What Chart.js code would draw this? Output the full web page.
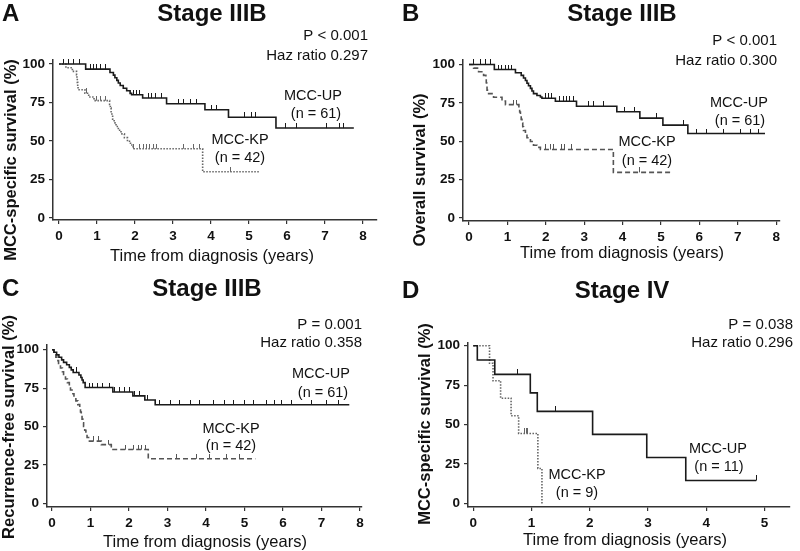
<!DOCTYPE html>
<html>
<head>
<meta charset="utf-8">
<script src="https://cdn.jsdelivr.net/npm/chart.js@4.4.1/dist/chart.umd.min.js"></script>
<style>
  html, body { margin: 0; padding: 0; background: #fff; }
  #wrap { position: relative; width: 800px; height: 551px; }
  #wrap canvas { position: absolute; }
</style>
</head>
<body>
<div id="wrap">
  <canvas id="panelA" width="400" height="275" style="left:0;top:0"></canvas>
  <canvas id="panelB" width="400" height="275" style="left:400px;top:0"></canvas>
  <canvas id="panelC" width="400" height="276" style="left:0;top:275px"></canvas>
  <canvas id="panelD" width="400" height="276" style="left:400px;top:275px"></canvas>
</div>
<script>
// Kaplan-Meier curves (time in years, survival in %)
// A: Stage IIIB, MCC-specific survival
const aUpTime = [0, 0.70, 1.34, 1.43, 1.47, 1.52, 1.56, 1.61, 1.69, 1.78, 1.87, 1.91, 2.20, 2.83, 3.84, 4.46, 5.71, 7.76];
const aUpSurv = [100, 96.7, 94.5, 92.8, 91.1, 89.4, 87.7, 86.0, 84.3, 82.6, 80.9, 80.0, 77.9, 74.2, 70.3, 65.4, 58.4, 58.4];
const aUpCensor = [0.11, 0.25, 0.38, 0.55, 0.82, 0.90, 0.99, 1.08, 1.21, 1.96, 2.04, 2.13, 2.35, 2.44, 2.53, 2.70,
  3.14, 3.27, 3.45, 3.62, 4.02, 4.15, 4.89, 5.07, 5.16, 5.95, 6.25, 7.04, 7.39, 7.48];
const aKpTime = [0, 0.18, 0.35, 0.46, 0.47, 0.48, 0.49, 0.50, 0.68, 0.78, 0.92, 1.33, 1.35, 1.37, 1.39, 1.41, 1.45,
  1.50, 1.56, 1.63, 1.72, 1.80, 1.88, 1.95, 3.78, 5.26];
const aKpSurv = [100, 97.6, 95.2, 92.9, 90.5, 88.1, 85.7, 83.3, 81.0, 78.6, 76.2, 73.8, 71.4, 69.0, 66.6, 64.2, 61.8,
  59.4, 57.0, 54.6, 52.2, 49.8, 47.4, 45.0, 30.0, 30.0];
const aKpCensor = [0.73, 0.99, 1.08, 1.21, 1.96, 2.13, 2.22, 2.31, 2.39, 2.48, 2.57, 3.27, 3.53, 3.71, 4.50];

// B: Stage IIIB, overall survival
const bUpTime = [0, 0.66, 1.21, 1.36, 1.42, 1.47, 1.51, 1.55, 1.60, 1.64, 1.68, 1.77, 1.86, 1.90, 2.25, 2.80, 3.85,
  4.45, 5.05, 5.70, 7.71];
const bUpSurv = [100, 96.7, 94.6, 92.9, 91.2, 89.5, 87.8, 86.1, 84.4, 82.7, 81.0, 79.8, 78.8, 78.0, 76.0, 72.8, 69.2,
  65.0, 60.5, 55.0, 55.0];
const bUpCensor = [0.11, 0.29, 0.42, 0.55, 0.76, 0.85, 0.94, 1.02, 1.11, 1.98, 2.07, 2.15, 2.37, 2.46, 2.54, 2.63,
  2.72, 3.11, 3.24, 3.50, 4.06, 4.32, 4.89, 5.58, 5.93, 6.19, 6.62, 7.06, 7.32, 7.53];
const bKpTime = [0, 0.12, 0.25, 0.38, 0.44, 0.45, 0.46, 0.47, 0.48, 0.64, 0.86, 0.95, 1.30, 1.32, 1.34, 1.36, 1.38,
  1.40, 1.42, 1.47, 1.51, 1.60, 1.68, 1.77, 1.86, 3.76, 5.28];
const bKpSurv = [100, 97.6, 95.2, 92.9, 90.5, 88.1, 85.7, 83.3, 81.0, 78.6, 76.2, 73.8, 71.4, 69.0, 66.6, 64.2, 61.8,
  59.4, 57.0, 54.6, 52.2, 49.8, 47.4, 46.0, 44.6, 29.7, 29.7];
const bKpCensor = [1.15, 1.24, 1.98, 2.11, 2.20, 2.41, 2.50, 2.67, 4.43];

// C: Stage IIIB, recurrence-free survival
const cUpTime = [0, 0.05, 0.12, 0.18, 0.25, 0.30, 0.38, 0.45, 0.50, 0.55, 0.70, 0.75, 0.78, 0.81, 0.86, 1.58, 2.10,
  2.41, 2.68, 7.72];
const cUpSurv = [100, 98.4, 96.7, 95.1, 93.4, 91.8, 90.2, 88.5, 86.9, 85.2, 83.6, 81.9, 80.3, 78.6, 75.4, 72.5, 70.0,
  67.3, 64.2, 64.2];
const cUpCensor = [0.64, 0.98, 1.06, 1.19, 1.32, 1.50, 1.63, 1.76, 1.89, 2.02, 2.15, 2.28, 2.49, 2.80, 3.07, 3.32,
  3.60, 3.84, 4.19, 4.49, 4.71, 5.00, 5.23, 5.57, 5.79, 5.97, 6.22, 6.74, 7.13, 7.43];
const cKpTime = [0, 0.05, 0.10, 0.13, 0.17, 0.22, 0.27, 0.30, 0.35, 0.40, 0.45, 0.48, 0.52, 0.57, 0.62, 0.67, 0.72,
  0.74, 0.76, 0.78, 0.80, 0.82, 0.85, 0.88, 0.91, 0.95, 1.28, 1.54, 2.50, 5.28];
const cKpSurv = [100, 97.6, 95.2, 92.9, 90.5, 88.1, 85.7, 83.3, 81.0, 78.6, 76.2, 73.8, 71.4, 69.0, 66.7, 64.3, 61.9,
  59.5, 57.1, 54.8, 52.4, 50.0, 47.6, 45.2, 42.9, 40.5, 38.2, 35.0, 29.0, 29.0];
const cKpCensor = [1.07, 1.20, 1.46, 1.90, 2.11, 2.24, 2.33, 2.42, 3.24, 3.76, 4.10, 4.54, 4.88];

// D: Stage IV, MCC-specific survival
const dUpTime = [0, 0.07, 0.37, 0.98, 1.10, 2.05, 2.98, 3.65, 4.86];
const dUpSurv = [100, 90.9, 81.8, 70.1, 58.4, 43.8, 29.2, 14.6, 14.6];
const dUpCensor = [0.76, 1.41, 4.86];
const dKpTime = [0, 0.28, 0.34, 0.47, 0.65, 0.78, 1.11, 1.18];
const dKpSurv = [100, 88.9, 77.8, 66.7, 55.6, 44.4, 22.2, 0];
const dKpCensor = [0.88, 0.91, 0.94];

const groupNames = ['MCC-UP', 'MCC-KP'];
const stageIIIBn = [61, 42];
const stageIVn = [11, 9];
const panelTitles = ['Stage IIIB', 'Stage IIIB', 'Stage IIIB', 'Stage IV'];
const panelLetters = ['A', 'B', 'C', 'D'];
const yTitles = ['MCC-specific survival (%)', 'Overall survival (%)', 'Recurrence-free survival (%)', 'MCC-specific survival (%)'];
const xTitle = 'Time from diagnosis (years)';
const statsA = ['P < 0.001', 'Haz ratio 0.297'];
const statsB = ['P < 0.001', 'Haz ratio 0.300'];
const statsC = ['P = 0.001', 'Haz ratio 0.358'];
const statsD = ['P = 0.038', 'Haz ratio 0.296'];

const FONT = '"Liberation Sans", Arial, Helvetica, sans-serif';
const INK = '#111';

// survival value at time t on a step curve
const survAt = (times, survs, t) => {
  let v = survs[0];
  for (let i = 0; i < times.length; i++) {
    if (times[i] <= t) v = survs[i];
  }
  return v;
};

// upward censor tick used as point style
const tickMark = (color) => {
  const c = document.createElement('canvas');
  c.width = 1;
  c.height = 10;
  const g = c.getContext('2d');
  g.fillStyle = color;
  g.fillRect(0, 0, 1, 5);
  return c;
};

const annotate = {
  id: 'annotate',
  afterDraw(chart, args, o) {
    const ctx = chart.ctx;
    ctx.save();
    ctx.fillStyle = INK;
    ctx.textBaseline = 'alphabetic';
    ctx.font = `bold 24px ${FONT}`;
    ctx.textAlign = 'left';
    ctx.fillText(o.letter, 2, o.headY);
    ctx.textAlign = 'center';
    ctx.fillText(o.title, o.titleX, o.headY);

    ctx.font = `15px ${FONT}`;
    ctx.textAlign = 'right';
    o.stats.forEach((s, i) => ctx.fillText(s, o.statsX, o.statsY[i]));

    ctx.font = `14.5px ${FONT}`;
    ctx.textAlign = 'center';
    ctx.textBaseline = 'middle';
    o.labels.forEach(l => ctx.fillText(l.text, l.x, l.y));

    ctx.font = `16.5px ${FONT}`;
    ctx.fillText(xTitle, o.xTitleX, o.xTitleY);

    ctx.font = `bold 16.5px ${FONT}`;
    ctx.translate(o.yTitleX, o.yTitleY);
    ctx.rotate(-Math.PI / 2);
    ctx.fillText(o.yTitle, 0, 0);
    ctx.restore();
  }
};

function buildPanel(p) {
  const canvas = document.getElementById(p.id);
  const W = canvas.width, H = canvas.height;
  const curve = (times, survs, color, dash) => ({
    data: times.map((t, i) => ({ x: t, y: survs[i] })),
    showLine: true,
    stepped: true,
    borderColor: color,
    borderWidth: 1.6,
    borderDash: dash,
    pointRadius: 0,
    fill: false
  });
  const censors = (times, survs, cens, color) => ({
    data: cens.map(t => ({ x: t, y: survAt(times, survs, t) })),
    showLine: false,
    pointStyle: tickMark(color),
    pointRadius: 3,
    clip: false
  });

  new Chart(canvas, {
    type: 'scatter',
    data: {
      datasets: [
        curve(p.upT, p.upS, '#1a1a1a', []),
        curve(p.kpT, p.kpS, p.kpColor, p.kpDash),
        censors(p.upT, p.upS, p.upC, '#1a1a1a'),
        censors(p.kpT, p.kpS, p.kpC, p.kpColor)
      ]
    },
    options: {
      responsive: false,
      animation: false,
      events: [],
      layout: { padding: { top: p.top, right: W - p.right, left: 0, bottom: 0 } },
      plugins: {
        legend: { display: false },
        tooltip: { enabled: false },
        annotate: p.text
      },
      scales: {
        x: {
          type: 'linear',
          min: p.xMin,
          max: p.xMax,
          afterFit: s => { s.height = H - p.bottom; },
          ticks: { stepSize: 1, includeBounds: false, padding: 4, color: INK, font: { family: FONT, size: 13.5, weight: 'bold' } },
          grid: { drawOnChartArea: false, drawTicks: true, tickLength: 4, color: '#333', lineWidth: 1.2 },
          border: { display: true, color: '#333', width: 1.5 }
        },
        y: {
          type: 'linear',
          min: p.yMin,
          max: p.yMax,
          afterFit: s => { s.width = p.left; },
          ticks: { stepSize: 25, includeBounds: false, padding: 4, color: INK, font: { family: FONT, size: 13.5, weight: 'bold' } },
          grid: { drawOnChartArea: false, drawTicks: true, tickLength: 4, color: '#333', lineWidth: 1.2 },
          border: { display: true, color: '#333', width: 1.5 }
        }
      }
    },
    plugins: [annotate]
  });
}

const dotted = [1.5, 1.5];
const dashed = [5, 3];

buildPanel({
  id: 'panelA', left: 53, right: 377, top: 60, bottom: 220,
  xMin: -0.16, xMax: 8.37, yMin: -1.3, yMax: 102.6,
  upT: aUpTime, upS: aUpSurv, upC: aUpCensor,
  kpT: aKpTime, kpS: aKpSurv, kpC: aKpCensor, kpColor: '#666', kpDash: dotted,
  text: {
    letter: panelLetters[0], title: panelTitles[0], titleX: 212, headY: 21,
    stats: statsA, statsX: 368, statsY: [40, 60],
    labels: [
      { text: groupNames[0], x: 313, y: 96 }, { text: `(n = ${stageIIIBn[0]})`, x: 316, y: 114 },
      { text: groupNames[1], x: 240, y: 140 }, { text: `(n = ${stageIIIBn[1]})`, x: 240, y: 158 }
    ],
    xTitleX: 212, xTitleY: 256, yTitle: yTitles[0], yTitleX: 11, yTitleY: 160
  }
});

buildPanel({
  id: 'panelB', left: 63, right: 380, top: 60, bottom: 221,
  xMin: -0.156, xMax: 8.10, yMin: -2.0, yMax: 102.9,
  upT: bUpTime, upS: bUpSurv, upC: bUpCensor,
  kpT: bKpTime, kpS: bKpSurv, kpC: bKpCensor, kpColor: '#555', kpDash: dashed,
  text: {
    letter: panelLetters[1], title: panelTitles[1], titleX: 222, headY: 21,
    stats: statsB, statsX: 377, statsY: [45, 65],
    labels: [
      { text: groupNames[0], x: 339, y: 103 }, { text: `(n = ${stageIIIBn[0]})`, x: 340, y: 121 },
      { text: groupNames[1], x: 247, y: 142 }, { text: `(n = ${stageIIIBn[1]})`, x: 247, y: 161 }
    ],
    xTitleX: 222, xTitleY: 253, yTitle: yTitles[1], yTitleX: 20, yTitleY: 170
  }
});

buildPanel({
  id: 'panelC', left: 47, right: 362, top: 70, bottom: 232,
  xMin: -0.13, xMax: 8.05, yMin: -2.4, yMax: 103.1,
  upT: cUpTime, upS: cUpSurv, upC: cUpCensor,
  kpT: cKpTime, kpS: cKpSurv, kpC: cKpCensor, kpColor: '#555', kpDash: dashed,
  text: {
    letter: panelLetters[2], title: panelTitles[2], titleX: 207, headY: 21,
    stats: statsC, statsX: 362, statsY: [54, 72],
    labels: [
      { text: groupNames[0], x: 321, y: 99 }, { text: `(n = ${stageIIIBn[0]})`, x: 323, y: 118 },
      { text: groupNames[1], x: 231, y: 154 }, { text: `(n = ${stageIIIBn[1]})`, x: 231, y: 171 }
    ],
    xTitleX: 205, xTitleY: 267, yTitle: yTitles[2], yTitleX: 9, yTitleY: 152
  }
});

buildPanel({
  id: 'panelD', left: 68, right: 390, top: 68, bottom: 232,
  xMin: -0.09, xMax: 5.44, yMin: -2.2, yMax: 101.7,
  upT: dUpTime, upS: dUpSurv, upC: dUpCensor,
  kpT: dKpTime, kpS: dKpSurv, kpC: dKpCensor, kpColor: '#666', kpDash: dotted,
  text: {
    letter: panelLetters[3], title: panelTitles[3], titleX: 222, headY: 23,
    stats: statsD, statsX: 393, statsY: [54, 72],
    labels: [
      { text: groupNames[0], x: 318, y: 174 }, { text: `(n = ${stageIVn[0]})`, x: 319, y: 192 },
      { text: groupNames[1], x: 177, y: 200 }, { text: `(n = ${stageIVn[1]})`, x: 177, y: 218 }
    ],
    xTitleX: 225, xTitleY: 265, yTitle: yTitles[3], yTitleX: 25, yTitleY: 149
  }
});
</script>
</body>
</html>
